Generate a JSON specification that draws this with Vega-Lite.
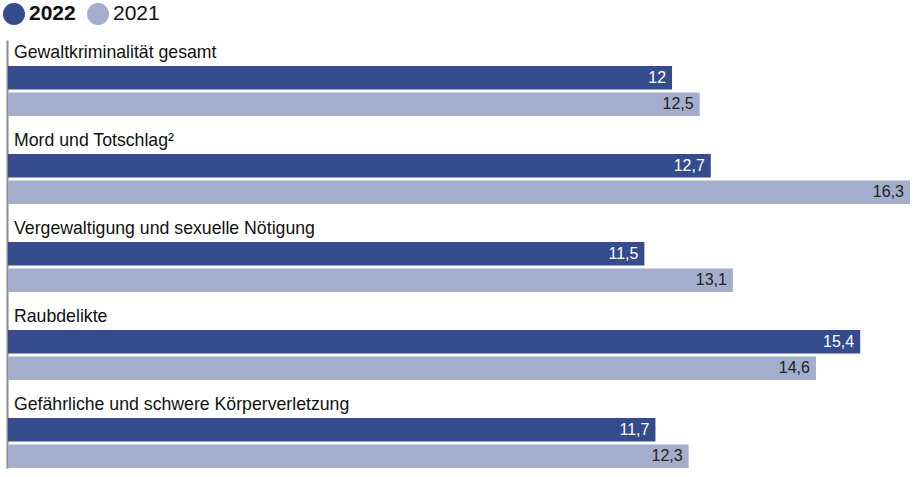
{
  "$schema": "https://vega.github.io/schema/vega-lite/v6.json",
  "width": 902,
  "height": 428,
  "autosize": {"type": "none"},
  "padding": {"left": 8, "top": 40, "right": 4, "bottom": 9},
  "background": "white",
  "config": {
    "view": {"stroke": null},
    "font": "Liberation Sans",
    "locale": {"number": {"decimal": ",", "thousands": ".", "grouping": [3], "currency": ["", " €"]}}
  },
  "data": {
    "values": [
      {"category": "Gewaltkriminalität gesamt", "year": "2022", "value": 12},
      {"category": "Gewaltkriminalität gesamt", "year": "2021", "value": 12.5},
      {"category": "Mord und Totschlag²", "year": "2022", "value": 12.7},
      {"category": "Mord und Totschlag²", "year": "2021", "value": 16.3},
      {"category": "Vergewaltigung und sexuelle Nötigung", "year": "2022", "value": 11.5},
      {"category": "Vergewaltigung und sexuelle Nötigung", "year": "2021", "value": 13.1},
      {"category": "Raubdelikte", "year": "2022", "value": 15.4},
      {"category": "Raubdelikte", "year": "2021", "value": 14.6},
      {"category": "Gefährliche und schwere Körperverletzung", "year": "2022", "value": 11.7},
      {"category": "Gefährliche und schwere Körperverletzung", "year": "2021", "value": 12.3}
    ]
  },
  "encoding": {
    "y": {
      "field": "category",
      "type": "nominal",
      "sort": null,
      "scale": {"paddingInner": 0.432, "paddingOuter": 0.1477, "align": 1},
      "axis": {"title": null, "labels": false, "ticks": false, "grid": false, "domain": true, "domainColor": "#8c8c8c", "domainWidth": 2, "offset": 1}
    }
  },
  "layer": [
    {
      "mark": {"type": "bar"},
      "encoding": {
        "x": {"field": "value", "type": "quantitative", "scale": {"domain": [0, 16.3], "nice": false}, "axis": null},
        "yOffset": {"field": "year", "type": "nominal", "sort": ["2022", "2021"], "scale": {"paddingInner": 0.12}},
        "color": {
          "field": "year",
          "type": "nominal",
          "sort": ["2022", "2021"],
          "scale": {"domain": ["2022", "2021"], "range": ["#354c8c", "#a2aecb"]},
          "legend": {
            "title": null,
            "orient": "none",
            "legendX": -5,
            "legendY": -37,
            "direction": "horizontal",
            "symbolType": "circle",
            "symbolSize": 484,
            "symbolStrokeWidth": 0,
            "labelFontSize": 21,
            "labelColor": "#111111",
            "labelOffset": 4,
            "columnPadding": 11,
            "padding": 0,
            "encode": {
              "labels": {"update": {"fontWeight": {"signal": "datum.value === '2022' ? 'bold' : 'normal'"}}},
              "symbols": {"update": {"strokeWidth": {"value": 0}}}
            }
          }
        }
      }
    },
    {
      "mark": {"type": "text", "align": "right", "baseline": "middle", "dx": -6, "fontSize": 16},
      "encoding": {
        "x": {"field": "value", "type": "quantitative"},
        "yOffset": {"field": "year", "type": "nominal", "sort": ["2022", "2021"]},
        "text": {"field": "value", "type": "quantitative", "format": ".1~f"},
        "color": {"condition": {"test": "datum.year === '2022'", "value": "white"}, "value": "#222222"}
      }
    },
    {
      "transform": [{"filter": "datum.year === '2022'"}],
      "mark": {"type": "text", "align": "left", "baseline": "alphabetic", "dx": 6, "dy": -8, "fontSize": 17.7, "color": "#111111"},
      "encoding": {
        "x": {"datum": 0, "type": "quantitative"},
        "y": {"field": "category", "type": "nominal", "sort": null, "bandPosition": 0},
        "text": {"field": "category"}
      }
    }
  ]
}
